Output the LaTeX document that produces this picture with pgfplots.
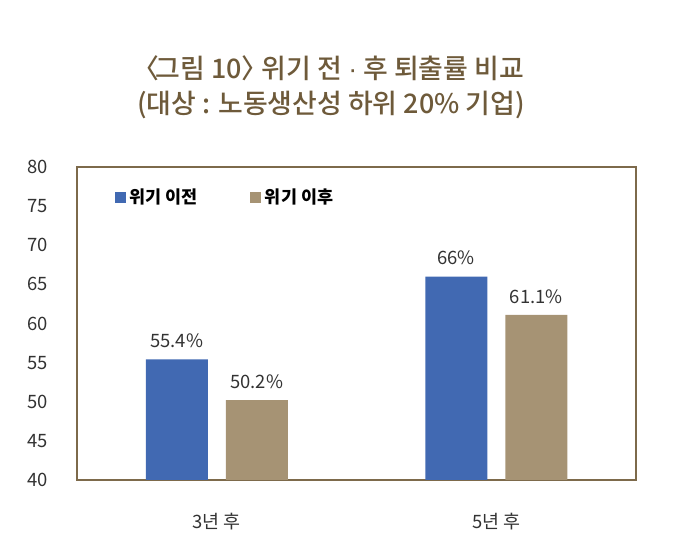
\documentclass[border=0pt]{standalone}
\usepackage{fontspec}
\setmainfont{Noto Sans CJK KR}
\newfontfamily\titlefont{Noto Sans CJK KR Medium}
\newfontfamily\latin{Liberation Sans}
\usepackage{pgfplots}
\pgfplotsset{compat=1.18}

\definecolor{before}{HTML}{4169B2}
\definecolor{after}{HTML}{A69374}
\definecolor{frame}{HTML}{7D6A4B}
\definecolor{titlecol}{HTML}{6E5A3A}
\definecolor{txt}{HTML}{333333}

\begin{document}
\begin{tikzpicture}
  % page size of the reference
  \path (0,0) rectangle (688bp,555bp);

  \node[text=titlecol, font=\fontsize{27}{30}\selectfont\titlefont] at (331bp,487bp)
    {\kern-0.2em〈\kern-0.15em그림 10〉\kern-0.25em 위기 전 {\latin·} 후 퇴출률 비교};
  \node[text=titlecol, font=\fontsize{27}{30}\selectfont\titlefont] at (331bp,450bp)
    {(대상 : 노동생산성 하위 20\% 기업)};

  \begin{axis}[
      at={(77bp,75bp)}, anchor=south west,
      scale only axis,
      width=559bp, height=313bp,
      ybar,
      bar width=62bp,
      xmin=-0.5, xmax=1.5,
      ymin=40, ymax=80,
      xtick=data,
      xticklabels={3년 후, 5년 후},
      ytick={40,45,...,80},
      major tick length=0pt,
      axis line style={draw=frame, line width=2.5bp},
      /pgf/number format/assume math mode=true,
      tick label style={text=txt, font=\fontsize{18.5}{21}\selectfont},
      yticklabel style={anchor=east, xshift=-26bp},
      xticklabel style={yshift=-30bp},
      point meta=explicit symbolic,
      nodes near coords,
      every node near coord/.append style={text=txt,
        font=\fontsize{18.5}{21}\selectfont, yshift=8bp},
      legend columns=2,
      legend style={at={(0.062,0.904)}, anchor=west, draw=none, fill=none,
        font=\fontsize{17.5}{20}\selectfont\bfseries,
        /tikz/every odd column/.append style={column sep=2bp},
        /tikz/every even column/.append style={column sep=50bp}},
      legend image code/.code={\fill[#1] (0bp,-5.5bp) rectangle (11bp,5.5bp);},
    ]
    \addplot[fill=before, draw=none, bar shift=-40bp] coordinates {
      (0,55.4) [55.4\%]
      (1,66.0) [66\%]
    };
    \addplot[fill=after, draw=none, bar shift=40bp] coordinates {
      (0,50.2) [50.2\%]
      (1,61.1) [61.1\%]
    };
    \legend{위기 이전, 위기 이후}
  \end{axis}
\end{tikzpicture}
\end{document}
